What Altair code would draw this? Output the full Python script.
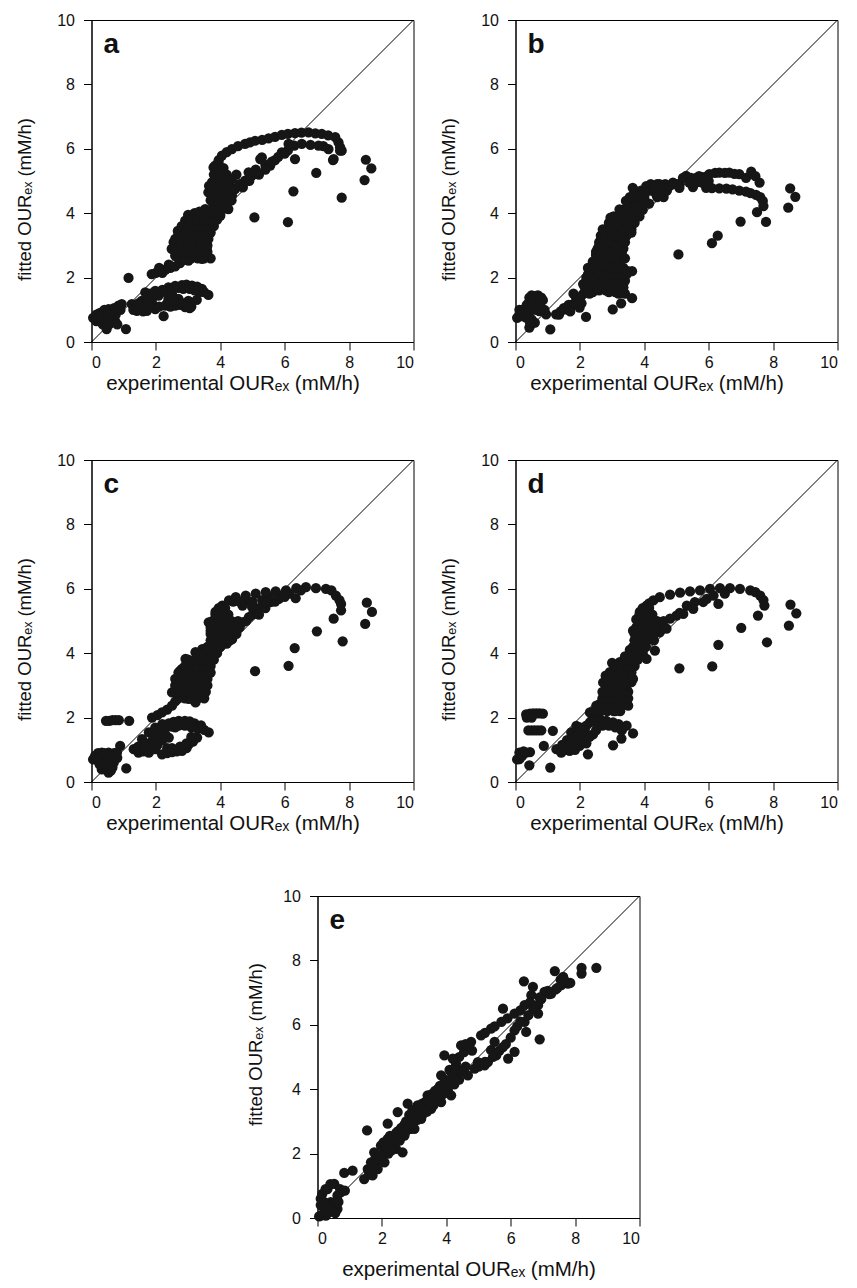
import altair as alt
import pandas as pd

X_TITLE = "experimental OURₑₓ (mM/h)"
Y_TITLE = "fitted OURₑₓ (mM/h)"
TICKS = [0, 2, 4, 6, 8, 10]
LETTERS = ["a", "b", "c", "d", "e"]

a_points = [
    (0.05,0.75),(0.11,0.77),(0.15,0.85),(0.22,0.71),(0.25,0.9),(0.32,0.92),(0.35,0.75),(0.42,0.61),
    (0.45,0.85),(0.47,0.4),(0.53,1.02),(0.55,0.55),(0.6,0.75),(0.63,0.87),(0.7,1.05),(0.73,0.66),
    (0.8,0.55),(0.84,1.13),(0.94,1.18),(0.4,1.0),
    (0.15,0.65),(0.3,0.8),(0.5,0.7),(0.65,0.95),(0.75,0.85),(0.9,1.0),(0.55,0.85),(0.35,0.55),
    (1.07,0.4),(1.15,1.99),(2.24,0.8),
    (1.25,1.18),(1.41,0.97),(1.56,1.28),(1.6,0.95),(1.72,0.97),(1.87,1.28),(1.98,1.02),(1.67,1.54),
    (1.82,1.5),(1.98,1.59),(2.08,1.44),(2.2,1.62),(2.39,1.7),(2.6,1.74),(2.81,1.77),(2.95,1.78),
    (3.12,1.75),(3.28,1.72),(3.43,1.65),(3.63,1.46),(3.27,1.31),(2.29,1.13),(2.39,1.34),(2.5,1.49),
    (2.6,1.13),(2.7,1.34),(2.91,1.08),(3.01,1.28),(3.1,1.1),(2.75,1.15),(2.45,1.1),(1.5,1.1),(1.3,1.0),
    (1.75,1.4),(1.9,1.45),(2.3,1.55),(2.5,1.62),(2.7,1.68),(2.85,1.65),(3.05,1.65),(3.2,1.6),
    (3.35,1.55),(3.5,1.55),(2.35,1.2),(2.55,1.25),(2.85,1.2),(2.95,1.15),(3.05,1.05),(1.45,1.2),
    (1.7,1.1),(1.9,1.15),(2.1,1.1),
    (1.87,2.11),(2.0,2.15),(2.15,2.2),(2.3,2.25),(2.45,2.3),(2.6,2.35),(2.75,2.45),(2.9,2.55),(3.0,2.68),
    (2.1,2.3),(2.4,2.4),(2.7,2.6),(2.2,2.15),
    (2.49,2.89),(2.6,2.68),(2.55,3.1),(2.7,3.3),(2.68,3.45),(2.81,3.1),(2.81,3.51),(2.91,3.77),
    (2.91,2.89),(3.01,3.3),(3.01,2.53),(3.12,2.89),(3.12,3.61),(3.22,2.68),(3.22,3.3),(3.32,3.1),
    (3.32,3.61),(3.43,3.92),(3.43,2.58),(3.53,4.13),(3.53,3.72),(3.58,2.89),(3.63,3.51),(3.63,3.2),
    (3.74,3.82),(3.7,2.6),(3.2,4.0),(3.35,4.05),(3.0,3.95),(2.85,2.7),(3.45,3.3),(3.15,3.3),(2.95,3.2),
    (2.9,2.6),(3.1,2.6),(3.3,2.6),(3.5,2.6),
    (2.6,2.8),(2.8,2.8),(3.0,2.8),(3.2,2.8),(3.4,2.8),(3.6,2.8),
    (2.6,3.0),(2.8,3.0),(3.0,3.0),(3.2,3.0),(3.4,3.0),(3.6,3.0),
    (2.6,3.2),(2.8,3.2),(3.0,3.2),(3.2,3.2),(3.4,3.2),(3.6,3.2),
    (2.7,3.4),(2.9,3.4),(3.1,3.4),(3.3,3.4),(3.5,3.4),(3.7,3.4),
    (2.8,3.6),(3.0,3.6),(3.2,3.6),(3.4,3.6),(3.6,3.6),(3.8,3.6),
    (3.1,3.8),(3.3,3.8),(3.5,3.8),(3.7,3.8),(3.9,3.8),
    (3.6,4.0),(3.8,4.0),(4.0,4.0),
    (3.74,4.13),(3.84,4.34),(3.63,4.65),(3.84,4.75),(4.05,4.54),(3.74,4.96),(3.94,5.17),(3.84,5.27),
    (4.15,4.86),(4.25,4.13),(4.05,4.13),(4.15,4.34),(3.94,5.58),(3.79,5.42),(4.0,3.92),(3.9,4.0),
    (3.7,4.4),(4.0,5.0),(3.65,4.85),
    (3.8,4.2),(4.0,4.2),(4.2,4.2),(3.75,4.4),(3.95,4.4),(4.15,4.4),(4.35,4.4),
    (3.7,4.6),(3.9,4.6),(4.1,4.6),(4.3,4.6),(3.75,4.8),(3.95,4.8),(4.15,4.8),(4.35,4.8),
    (3.8,5.0),(4.2,5.0),(3.8,5.2),(4.0,5.2),(4.2,5.2),(3.9,5.4),(4.1,5.4),
    (4.25,4.34),(4.36,4.55),(4.46,4.75),(4.6,4.9),(4.77,5.01),(4.98,5.17),(5.1,5.35),(5.24,5.68),
    (5.29,5.73),(5.4,5.5),(5.55,5.48),(5.7,5.65),(5.91,5.89),(6.1,5.95),(6.32,5.68),(6.12,6.15),
    (6.3,6.1),(6.53,6.15),(6.8,6.12),(7.05,6.1),(7.2,6.08),(7.36,5.99),(7.52,5.68),(7.72,5.94),
    (4.36,5.06),(4.88,5.27),(4.5,5.2),
    (4.7,4.8),(4.9,5.0),(5.2,5.2),(5.4,5.35),(5.6,5.6),(5.8,5.75),(6.0,5.85),
    (3.84,5.48),(3.95,5.65),(4.05,5.79),(4.2,5.9),(4.36,5.99),(4.55,6.08),(4.77,6.15),(4.92,6.2),
    (5.08,6.25),(5.3,6.28),(5.5,6.32),(5.7,6.37),(5.91,6.43),(6.1,6.46),(6.32,6.49),(6.52,6.5),
    (6.74,6.51),(6.95,6.48),(7.15,6.46),(7.35,6.42),(7.57,6.36),(7.67,6.2),(7.72,6.05),(7.77,5.94),
    (5.06,3.87),(6.1,3.72),(6.27,4.68),(6.98,5.25),(7.77,4.48),(8.48,5.03),(8.52,5.66),(8.69,5.39),(7.5,5.65),
]

b_points = [
    (0.05,0.75),(0.12,0.86),(0.12,1.0),(0.2,0.8),(0.33,0.76),(0.3,1.0),(0.43,1.38),(0.5,1.45),
    (0.54,1.07),(0.49,0.55),(0.43,0.45),(0.6,0.6),(0.64,1.43),(0.7,1.45),(0.74,0.96),(0.8,1.38),
    (0.85,1.3),(0.95,0.86),(0.4,1.2),(0.6,1.2),(0.25,0.9),
    (0.2,1.0),(0.35,1.15),(0.45,0.95),(0.55,1.3),(0.65,1.0),(0.75,1.2),(0.9,1.0),(0.5,0.7),
    (0.45,0.6),(0.3,0.85),
    (1.08,0.39),(2.19,0.78),
    (1.26,0.86),(1.4,0.95),(1.57,1.01),(1.7,1.1),(1.78,1.17),(1.88,1.38),(1.99,1.07),(2.09,1.48),
    (1.95,1.25),(1.8,1.5),
    (1.35,0.85),(1.5,1.05),(1.65,1.15),(1.85,1.2),(2.0,1.35),(1.7,0.95),(2.05,1.2),
    (2.2,1.7),(2.3,1.5),(2.4,1.55),(2.5,1.7),(2.6,1.6),(2.7,1.65),(2.8,1.6),(2.9,1.55),(3.0,1.6),
    (3.1,1.55),(3.2,1.5),(3.3,1.55),(3.4,1.5),(3.02,1.01),(3.28,1.2),(3.62,1.36),(3.49,2.2),(3.62,2.2),
    (3.23,2.0),(3.33,1.8),(3.1,1.9),(2.9,2.0),(3.0,2.3),
    (2.15,1.7),(2.35,1.7),(2.55,1.7),(2.75,1.7),(2.95,1.7),(3.15,1.7),(3.35,1.7),
    (2.2,1.9),(2.4,1.9),(2.6,1.9),(2.8,1.9),(3.0,1.9),(3.2,1.9),(3.4,1.9),
    (2.25,2.1),(2.45,2.1),(2.65,2.1),(2.85,2.1),(3.05,2.1),(3.25,2.1),(3.45,2.1),
    (2.35,2.3),(2.55,2.3),(2.75,2.3),(2.95,2.3),(3.15,2.3),(3.35,2.3),
    (2.45,2.5),(2.65,2.5),(2.85,2.5),(3.05,2.5),(3.25,2.5),
    (2.5,2.7),(2.7,2.7),(2.9,2.7),(3.1,2.7),(3.3,2.7),
    (2.55,2.9),(2.75,2.9),(2.95,2.9),(3.15,2.9),(3.35,2.9),
    (2.6,3.1),(2.8,3.1),(3.0,3.1),(3.2,3.1),(3.4,3.1),
    (2.65,3.3),(2.85,3.3),(3.05,3.3),(3.25,3.3),(3.45,3.3),
    (2.8,3.5),(3.0,3.5),(3.2,3.5),(3.4,3.5),(3.6,3.5),
    (2.9,3.7),(3.1,3.7),(3.3,3.7),(3.5,3.7),(3.7,3.7),
    (3.05,3.9),(3.25,3.9),(3.45,3.9),(3.65,3.9),(3.85,3.9),
    (3.35,4.1),(3.55,4.1),(3.75,4.1),(3.95,4.1),
    (3.55,4.3),(3.75,4.3),(3.95,4.3),(4.15,4.3),
    (3.6,4.5),(3.8,4.5),(4.0,4.5),(4.4,4.5),(4.6,4.5),
    (3.7,4.7),(3.9,4.7),(4.1,4.7),(4.3,4.7),(4.5,4.7),(4.7,4.7),
    (4.2,4.9),(4.4,4.9),(4.65,4.9),(4.9,4.9),(5.1,4.9),
    (2.1,1.8),(2.2,2.0),(2.25,2.3),(2.35,2.2),(2.4,2.5),(2.5,2.4),(2.5,2.8),(2.6,2.6),(2.6,3.0),
    (2.7,2.8),(2.7,3.2),(2.71,3.5),(2.8,3.0),(2.8,3.3),(2.9,3.1),(2.92,3.5),(2.95,3.86),(3.0,3.3),
    (3.05,2.7),(3.1,3.6),(3.15,3.0),(3.2,3.9),(3.23,4.12),(3.3,3.5),(3.35,3.15),(3.4,3.8),(3.45,4.1),
    (3.5,3.6),(3.6,4.0),(3.6,3.4),(3.7,3.9),(3.75,4.25),(2.45,2.0),(2.55,2.15),(2.75,2.4),(2.65,2.1),
    (2.85,2.6),(3.15,2.4),(3.1,2.6),(3.3,2.8),(3.4,2.6),
    (3.43,4.38),(3.64,4.79),(3.55,4.5),(3.85,4.48),(3.95,4.6),(4.06,4.84),(4.2,4.7),(4.37,4.59),
    (4.47,4.9),(4.3,4.8),(4.6,4.85),(4.78,4.84),(4.89,4.95),(5.09,4.79),(5.0,4.9),(5.3,5.16),(5.2,5.1),
    (5.51,4.81),(5.45,5.1),(5.61,5.1),(5.8,5.12),(5.92,4.79),
    (5.6,4.95),(5.8,4.95),(6.0,5.0),(5.4,4.95),(5.7,5.15),(5.95,5.15),
    (6.02,5.21),(6.2,5.25),(6.33,5.26),(6.5,5.25),(6.64,5.26),(6.8,5.22),(6.95,5.21),(7.16,5.1),
    (7.32,5.29),(7.58,4.95),(7.45,5.15),
    (6.1,4.78),(6.33,4.77),(6.55,4.76),(6.74,4.74),(6.95,4.7),(7.16,4.67),(7.3,4.62),(7.47,4.57),
    (7.6,4.5),(7.68,4.38),(7.7,4.22),
    (5.06,2.72),(6.1,3.07),(6.28,3.3),(6.99,3.74),(7.5,4.03),(7.78,3.73),(8.47,4.17),(8.53,4.77),(8.69,4.51),
]

c_points = [
    (0.05,0.7),(0.11,0.81),(0.2,0.9),(0.22,0.65),(0.32,0.91),(0.32,0.39),(0.4,0.75),(0.48,0.45),
    (0.53,0.91),(0.53,0.29),(0.6,0.6),(0.69,0.6),(0.7,0.9),(0.79,0.91),(0.89,1.12),(0.6,0.35),(0.3,0.75),
    (0.15,0.75),(0.4,0.9),(0.45,0.6),(0.55,0.75),(0.65,0.45),(0.8,0.75),(0.25,0.55),
    (0.45,1.9),(0.55,1.9),(0.65,1.92),(0.75,1.92),(0.85,1.92),(1.17,1.9),
    (1.08,0.42),
    (1.31,1.02),(1.46,0.91),(1.6,0.95),(1.78,0.91),(1.98,1.02),(1.57,1.33),(1.7,1.2),(1.78,1.54),
    (1.98,1.69),(1.9,1.3),(2.1,1.4),(2.29,1.48),(2.4,1.38),(2.2,1.8),(2.4,1.82),(2.55,1.87),(2.71,1.9),
    (2.9,1.9),(3.05,1.88),(3.2,1.82),(3.4,1.76),(3.64,1.54),(2.19,0.86),(2.35,0.9),(2.5,0.93),
    (2.65,0.95),(2.81,0.97),(2.95,1.05),(3.02,1.17),(3.15,1.25),(3.28,1.38),(2.6,1.7),(2.0,1.25),
    (1.45,1.1),(1.65,1.05),(1.85,1.1),(2.05,1.15),(1.9,1.5),(2.1,1.65),(2.3,1.68),(2.5,1.72),
    (2.7,1.75),(2.9,1.75),(3.1,1.7),(3.3,1.65),(3.5,1.62),(2.35,1.05),(2.5,1.05),(2.75,1.1),
    (2.95,1.2),(3.1,1.4),(2.2,1.3),
    (1.88,2.0),(2.05,2.08),(2.19,2.16),(2.35,2.25),(2.5,2.37),(2.6,2.5),(2.5,2.78),(2.6,2.85),(2.71,3.2),
    (2.75,3.45),(2.81,3.51),(2.92,3.82),(3.02,2.58),(2.9,2.75),(3.0,3.0),(3.1,3.3),(3.23,2.47),
    (3.33,2.99),(3.2,3.2),(3.3,3.5),(3.44,2.78),(3.54,3.51),(3.4,3.3),(3.23,4.03),(3.44,4.13),(3.64,4.03),
    (3.5,3.8),(3.65,3.7),(3.75,4.55),(3.64,4.96),(3.7,4.7),(3.85,5.28),(3.8,5.0),(4.06,5.48),(4.27,5.64),
    (3.96,4.44),(4.16,4.65),(4.37,4.44),(4.48,4.76),(4.69,4.96),(4.89,5.12),(5.1,5.28),(5.31,5.43),
    (5.57,5.59),(5.82,5.69),(6.14,5.85),(4.0,4.8),(4.1,5.1),(3.9,4.2),(4.2,4.3),(4.3,4.9),
    (2.7,2.6),(2.9,2.6),(3.1,2.6),(3.3,2.6),(3.5,2.6),
    (2.6,2.8),(2.8,2.8),(3.0,2.8),(3.2,2.8),(3.4,2.8),(3.55,2.8),
    (2.6,3.0),(2.8,3.0),(3.2,3.0),(3.4,3.0),(3.6,3.0),
    (2.6,3.2),(2.8,3.2),(3.0,3.2),(3.4,3.2),(3.6,3.2),
    (2.7,3.4),(2.9,3.4),(3.1,3.4),(3.3,3.4),(3.5,3.4),(3.7,3.4),
    (2.9,3.6),(3.1,3.6),(3.3,3.6),(3.5,3.6),(3.7,3.6),
    (3.0,3.8),(3.2,3.8),(3.4,3.8),(3.6,3.8),(3.8,3.8),
    (3.3,4.0),(3.5,4.0),(3.7,4.0),(3.9,4.0),
    (3.6,4.2),(3.8,4.2),(4.0,4.2),
    (3.7,4.4),(3.9,4.4),(4.1,4.4),(4.3,4.4),
    (3.7,4.6),(3.9,4.6),(4.1,4.6),(4.3,4.6),(4.5,4.6),
    (3.7,4.8),(3.9,4.8),(4.1,4.8),(4.3,4.8),(4.6,4.8),
    (3.75,5.0),(3.95,5.0),(4.15,5.0),(4.35,5.0),(4.55,5.0),(4.8,5.0),
    (3.85,5.2),(4.05,5.2),(4.25,5.2),(5.0,5.2),(5.2,5.2),
    (3.95,5.4),(4.15,5.4),(5.2,5.4),(5.4,5.4),
    (4.4,5.6),(5.45,5.6),(5.7,5.6),
    (5.5,5.75),(5.8,5.8),(6.0,5.75),(5.3,5.65),(5.0,5.6),(4.8,5.6),
    (4.48,5.74),(4.79,5.79),(5.1,5.85),(5.41,5.9),(5.72,5.92),(6.04,5.95),(6.36,6.02),(6.66,6.05),
    (6.97,6.02),(7.28,6.0),(7.45,5.95),(7.59,5.79),(7.7,5.65),(7.75,5.53),(7.75,5.33),(6.34,5.71),
    (4.69,5.48),(4.99,5.43),(4.6,5.6),(6.5,5.95),
    (5.08,3.44),(6.12,3.61),(6.31,4.16),(7.0,4.68),(7.52,5.07),(7.8,4.37),(8.5,4.91),(8.55,5.57),(8.71,5.28),
]

d_points = [
    (0.33,2.1),(0.45,2.12),(0.55,2.13),(0.65,2.13),(0.75,2.13),(0.85,2.12),(0.35,2.0),(0.5,2.0),
    (0.4,1.6),(0.5,1.6),(0.6,1.6),(0.7,1.6),(0.8,1.6),(1.16,1.59),
    (0.05,0.7),(0.12,0.91),(0.12,0.71),(0.2,0.8),(0.33,0.91),(0.45,0.93),(0.43,0.52),(0.88,1.12),
    (1.08,0.45),(0.25,0.95),
    (1.27,1.02),(1.42,0.91),(1.55,1.0),(1.68,0.97),(1.99,1.12),(1.85,1.0),(1.6,1.3),(1.73,1.54),
    (1.89,1.74),(2.1,1.43),(2.25,0.86),(2.41,1.48),(2.31,1.85),(2.62,1.95),(3.03,1.14),(3.29,1.35),
    (3.65,1.51),(3.34,1.69),(3.03,1.85),(2.82,1.9),(2.0,1.7),(2.2,1.75),(2.5,1.85),(1.8,1.3),(2.2,1.2),
    (3.2,1.8),(3.45,1.75),
    (1.45,1.15),(1.65,1.1),(1.8,1.15),(2.05,1.3),(2.3,1.4),(2.5,1.6),(2.7,1.75),(2.9,1.75),
    (3.1,1.7),(3.3,1.6),(2.0,1.55),(2.15,1.6),(1.75,1.35),(1.95,1.45),
    (2.31,2.16),(2.51,2.37),(2.72,2.58),(2.82,2.78),(2.93,2.99),(2.72,3.09),(3.03,3.3),(3.24,3.72),
    (3.34,3.61),(3.55,3.41),(3.5,2.37),(3.24,2.37),(3.03,2.58),(3.45,2.89),(3.65,3.72),(2.93,3.41),
    (3.14,2.99),(3.76,4.03),(3.65,4.7),(3.86,4.34),(3.86,4.96),(3.86,5.28),(4.07,5.48),(4.17,4.55),
    (4.33,4.08),(4.07,3.82),(4.48,4.96),(4.8,5.07),(5.0,5.17),(4.48,4.65),(4.69,4.76),(2.4,2.0),
    (2.6,2.2),(2.85,2.3),(3.1,2.2),(2.8,3.3),(3.0,3.7),(3.4,3.9),(3.55,4.1),(3.7,4.4),(3.95,4.1),
    (4.0,4.7),(4.1,5.1),(3.75,5.05),(3.6,3.1),(3.3,3.1),
    (2.45,2.2),(2.65,2.2),(2.85,2.2),(3.05,2.2),(3.25,2.2),
    (2.6,2.4),(2.8,2.4),(3.0,2.4),(3.2,2.4),(3.4,2.4),
    (2.7,2.6),(2.9,2.6),(3.1,2.6),(3.3,2.6),(3.5,2.6),
    (2.7,2.8),(2.9,2.8),(3.1,2.8),(3.3,2.8),(3.5,2.8),
    (2.8,3.0),(3.0,3.0),(3.2,3.0),(3.4,3.0),
    (2.85,3.2),(3.05,3.2),(3.25,3.2),(3.45,3.2),(3.65,3.2),
    (3.0,3.4),(3.2,3.4),(3.4,3.4),(3.6,3.4),
    (3.1,3.6),(3.3,3.6),(3.5,3.6),(3.7,3.6),
    (3.4,3.8),(3.6,3.8),(3.8,3.8),
    (3.55,4.0),(3.75,4.0),(3.95,4.0),
    (3.65,4.2),(3.85,4.2),(4.05,4.2),
    (3.7,4.4),(3.9,4.4),(4.1,4.4),(4.3,4.4),
    (3.7,4.6),(3.9,4.6),(4.1,4.6),(4.3,4.6),
    (3.75,4.8),(3.95,4.8),(4.15,4.8),(4.35,4.8),(4.6,4.8),
    (3.8,5.0),(4.0,5.0),(4.2,5.0),(4.4,5.0),(4.6,5.0),
    (3.85,5.2),(4.05,5.2),(4.25,5.2),(3.95,5.4),(4.15,5.4),
    (4.28,5.64),(4.48,5.74),(4.8,5.82),(5.11,5.88),(5.42,5.92),(5.73,5.95),(6.04,6.0),(6.35,6.02),
    (6.66,6.02),(6.97,6.0),(7.29,5.95),(7.45,5.9),(7.6,5.79),(7.73,5.48),(7.7,5.65),(4.15,5.55),
    (5.32,5.48),(5.57,5.59),(5.21,5.22),(5.52,5.38),(5.83,5.59),(6.3,5.53),(5.94,5.69),(6.15,5.79),
    (5.1,5.25),(6.5,5.85),
    (5.09,3.53),(6.11,3.59),(6.3,4.26),(7.01,4.79),(7.53,5.17),(7.81,4.34),(8.49,4.86),(8.54,5.51),(8.72,5.24),
]

e_points = [
    (0.05,0.05),(0.1,0.07),(0.2,0.1),(0.26,0.07),(0.21,0.28),(0.1,0.6),(0.1,0.4),(0.15,0.75),
    (0.25,0.9),(0.31,0.9),(0.41,0.49),(0.4,1.05),(0.52,1.06),(0.5,0.4),(0.62,0.7),(0.62,0.28),
    (0.65,0.5),(0.7,0.9),(0.73,0.8),(0.35,0.3),(0.45,0.2),(0.3,0.15),(0.55,0.15),(0.2,0.5),(0.85,0.85),
    (0.83,1.4),(1.09,1.47),(1.45,1.21),(1.56,1.52),(1.54,2.72),
    (1.6,1.35),(1.66,1.73),(1.71,1.32),(1.76,2.04),(1.8,1.6),(1.87,1.52),(1.9,1.9),(1.97,2.25),
    (2.0,1.8),(2.08,1.73),(2.1,2.1),(2.18,2.46),(2.18,2.93),(2.2,2.0),(2.3,2.3),(2.39,2.56),(2.4,2.2),
    (2.44,2.15),(2.49,3.29),(2.5,2.7),(2.6,2.5),(2.64,2.04),(2.7,2.56),(2.7,2.9),(2.8,3.55),(2.8,2.8),
    (2.9,2.77),(2.9,3.1),(3.0,3.0),(3.01,2.77),(3.05,3.3),(3.11,3.5),(3.2,3.2),(3.22,3.08),(3.3,3.4),
    (3.35,3.6),(3.42,3.81),(3.45,3.4),(3.53,3.39),(3.55,3.7),(3.65,3.6),(3.7,3.85),(3.74,4.01),
    (3.8,3.8),(3.84,3.6),(3.84,4.43),(3.9,4.1),(4.0,4.2),(4.05,3.95),(4.15,4.53),(4.15,3.81),(4.2,4.3),
    (4.1,4.6),(3.94,5.05),(4.3,4.4),
    (1.65,1.5),(1.8,1.85),(1.95,1.95),(2.05,2.35),(2.15,2.2),(2.25,2.55),(2.3,2.1),(2.35,2.4),
    (2.45,2.65),(2.55,2.4),(2.6,2.8),(2.65,2.65),(2.75,3.0),(2.75,2.7),(2.85,3.2),(2.9,2.95),
    (2.95,3.35),(3.0,3.15),(3.1,3.05),(3.15,3.4),(3.25,3.55),(3.3,3.25),(3.4,3.65),(3.4,3.3),
    (3.5,3.55),(3.55,3.85),(3.6,3.5),(3.65,3.95),(3.75,3.7),(3.8,4.1),(3.9,3.85),(3.95,4.3),
    (4.0,4.0),(4.1,4.2),(4.2,4.45),(4.25,4.15),(4.35,4.55),(4.4,4.3),(4.5,4.6),
    (4.3,4.8),(4.4,5.0),(4.55,5.15),(4.6,4.7),(4.8,5.2),(4.45,4.55),(4.2,4.95),
    (4.46,5.36),(4.77,5.47),(5.08,5.67),(5.39,5.88),(5.76,6.5),(5.71,6.09),(6.12,6.35),(6.43,6.61),
    (6.41,7.35),(6.69,7.18),(6.64,6.92),(7.05,7.02),(7.37,7.67),(7.63,7.49),(7.78,7.28),(7.57,7.23),
    (8.2,7.77),(8.2,7.59),(8.66,7.77),(7.26,6.97),(6.85,6.61),
    (4.6,5.4),(5.2,5.75),(5.5,5.95),(5.9,6.2),(6.3,6.45),(6.6,6.7),(6.9,6.85),(7.15,7.05),
    (7.4,7.1),(7.55,7.4),(7.7,7.35),
    (4.25,4.64),(4.67,4.43),(4.88,4.64),(5.19,4.74),(5.39,5.21),(5.55,5.05),(5.76,5.31),(5.92,4.95),
    (6.12,5.16),(6.12,5.83),(6.48,5.78),(6.9,5.55),(6.85,6.35),(6.43,6.09),(5.29,4.84),(4.98,4.84),(5.5,5.47),
    (5.0,4.7),(5.2,4.85),(5.45,5.0),(5.65,5.2),(5.85,5.4),(6.0,5.6),(6.2,5.95),(6.3,6.1),
    (6.55,6.3),(6.7,6.5),(6.95,6.8),(7.2,6.95),(7.45,7.15),(7.85,7.3),
]

DIAG = [0, 10]
INK = "#161616"
FONT = "Liberation Sans"


def panel(points, letter, helper_top, xt_x, xt_y, yt_x, yt_y):
    df = pd.DataFrame(points, columns=["x", "y"])
    sc = alt.Scale(domain=[0, 10], nice=False, zero=False)
    xaxis = alt.Axis(values=TICKS, title=X_TITLE, grid=False, tickSize=8,
                     labelPadding=4, titleX=xt_x, titleY=xt_y, titleFontSize=20.5,
                     titleAlign="center", titleBaseline="alphabetic")
    yaxis = alt.Axis(values=TICKS, title=Y_TITLE, grid=False, tickSize=8,
                     labelPadding=9, titleX=yt_x, titleY=yt_y, titleAngle=270, titleFontSize=18.5,
                     titleAlign="center", titleBaseline="alphabetic")
    pts = alt.Chart(df).mark_circle(size=105, color=INK, opacity=1).encode(
        x=alt.X("x:Q", scale=sc, axis=xaxis),
        y=alt.Y("y:Q", scale=sc, axis=yaxis),
    )
    diag = alt.Chart(pd.DataFrame({"x": DIAG, "y": DIAG})).mark_line(
        color="black", strokeWidth=1).encode(x=alt.X("x:Q", scale=sc), y=alt.Y("y:Q", scale=sc))
    lab = alt.Chart(pd.DataFrame({"t": [letter]})).mark_text(
        align="left", baseline="alphabetic", fontSize=28, fontWeight="bold", font=FONT, color="#111111"
    ).encode(text="t:N", x=alt.value(12), y=alt.value(33))
    h1 = alt.Chart(pd.DataFrame({"h": [0]})).mark_circle(size=1, opacity=0).encode(
        x=alt.value(-85), y=alt.value(helper_top))
    h2 = alt.Chart(pd.DataFrame({"h": [0]})).mark_circle(size=1, opacity=0).encode(
        x=alt.value(-85), y=alt.value(385))
    return alt.layer(diag, pts, lab, h1, h2).properties(width=322, height=322)


pa = panel(a_points, LETTERS[0], -15, 141, 47, -61, 179)
pb = panel(b_points, LETTERS[1], -15, 141, 47, -61, 179)
pc = panel(c_points, LETTERS[2], -15, 141, 47, -61, 179)
pd_ = panel(d_points, LETTERS[3], -15, 141, 47, -61, 179)
pe = panel(e_points, LETTERS[4], -11, 151, 57, -56, 148)

spacer = alt.Chart(pd.DataFrame({"h": [0]})).mark_circle(size=1, opacity=0).encode(
    x=alt.value(0), y=alt.value(0)
).properties(width=1, height=322, view=alt.ViewBackground(stroke="transparent"))

row1 = alt.hconcat(pa, pb, spacing=102, bounds="flush")
row2 = alt.hconcat(pc, pd_, spacing=102, bounds="flush")
row3 = alt.hconcat(spacer, pe, spacing=225, bounds="flush")

chart = alt.vconcat(row1, row2, row3, spacing=38).properties(
    padding={"left": 5.5, "top": 4, "right": 5, "bottom": 5}, background="white"
).configure_view(stroke="black", strokeWidth=1).configure_axis(
    domainColor="black", domainWidth=1, tickColor="black", tickWidth=1,
    labelFont=FONT, labelFontSize=16, labelColor="#111111",
    titleFont=FONT, titleFontWeight="normal", titleColor="#111111",
)

chart.save("out.html", embed_options={"renderer": "svg", "actions": False})
